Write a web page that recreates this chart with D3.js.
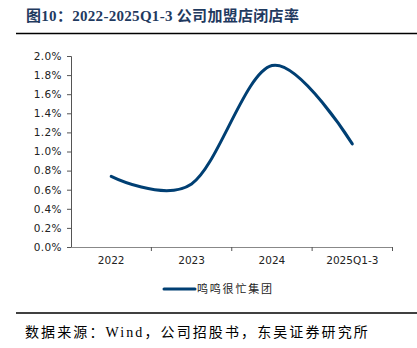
<!DOCTYPE html>
<html><head><meta charset="utf-8">
<script src="https://cdn.jsdelivr.net/npm/d3@7"></script>
<style>
body{margin:0;background:#fff;}
svg{display:block;}
</style></head>
<body><svg id="c" width="417" height="348"></svg>
<script>
const categories = ["2022","2023","2024","2025Q1-3"];
const values = [0.0074, 0.0066, 0.0190, 0.0108];
const yTicks = [0,0.002,0.004,0.006,0.008,0.010,0.012,0.014,0.016,0.018,0.020];
const seriesName = "鸣鸣很忙集团";
const titleText = "图10：2022-2025Q1-3 公司加盟店闭店率";
const sourceText = "数据来源：Wind，公司招股书，东吴证券研究所";

const svg = d3.select("#c");
const L = 71, R = 392.5, T = 56, B = 247;
const x = d3.scaleBand().domain(categories).range([L, R]);
const y = d3.scaleLinear().domain([0, 0.02]).range([B, T]);

// title
svg.append("text").attr("x", 26).attr("y", 21)
  .attr("font-family", "'Liberation Serif','Noto Sans CJK SC',serif")
  .attr("font-weight", "bold").attr("font-size", 15).attr("fill", "#1f3a5f")
  .attr("letter-spacing", 0.3)
  .text(titleText);
svg.append("line").attr("x1", 16).attr("x2", 417).attr("y1", 33.5).attr("y2", 33.5)
  .attr("stroke", "#000").attr("stroke-width", 1.5);

// y axis
const yAxis = svg.append("g").attr("transform", `translate(${L},0)`)
  .call(d3.axisLeft(y).tickValues(yTicks).tickFormat(d3.format(".1%")).tickSize(4).tickPadding(5));
yAxis.select(".domain").attr("stroke", "#555");
yAxis.selectAll(".tick line").attr("stroke", "#555");
yAxis.selectAll("text").attr("font-family", "'DejaVu Sans',sans-serif").attr("font-size", 10.5).attr("fill", "#222")
  .attr("letter-spacing", 0.4);

// x axis
const xAxis = svg.append("g").attr("transform", `translate(0,${B})`)
  .call(d3.axisBottom(x).tickSize(0).tickPadding(10));
xAxis.select(".domain").attr("stroke", "#888");
xAxis.selectAll("text").attr("font-family", "'DejaVu Sans',sans-serif").attr("font-size", 10.5).attr("fill", "#222");
// boundary ticks
const bounds = categories.map(c => x(c) + x.bandwidth());
svg.append("g").selectAll("line").data(bounds).join("line")
  .attr("x1", d => d).attr("x2", d => d).attr("y1", B).attr("y2", B + 4)
  .attr("stroke", "#555");

// line
const line = d3.line()
  .x((d, i) => x(categories[i]) + x.bandwidth() / 2)
  .y(d => y(d))
  .curve(d3.curveCardinal.tension(0));
svg.append("path").datum(values).attr("d", line)
  .attr("fill", "none").attr("stroke", "#003f73").attr("stroke-width", 3)
  .attr("stroke-linecap", "round");

// legend
svg.append("line").attr("x1", 164).attr("x2", 195).attr("y1", 289).attr("y2", 289)
  .attr("stroke", "#003f73").attr("stroke-width", 3).attr("stroke-linecap", "round");
svg.append("text").attr("x", 197).attr("y", 293)
  .attr("font-family", "'Noto Sans CJK SC',sans-serif").attr("font-size", 11).attr("fill", "#222")
  .attr("letter-spacing", 1.8)
  .text(seriesName);

// footer
svg.append("line").attr("x1", 16).attr("x2", 417).attr("y1", 313).attr("y2", 313)
  .attr("stroke", "#000").attr("stroke-width", 1.5);
svg.append("text").attr("x", 25).attr("y", 337)
  .attr("font-family", "'Liberation Serif','Noto Sans CJK SC',serif")
  .attr("font-size", 14).attr("fill", "#000")
  .attr("letter-spacing", 2.1)
  .text(sourceText);
</script></body></html>
